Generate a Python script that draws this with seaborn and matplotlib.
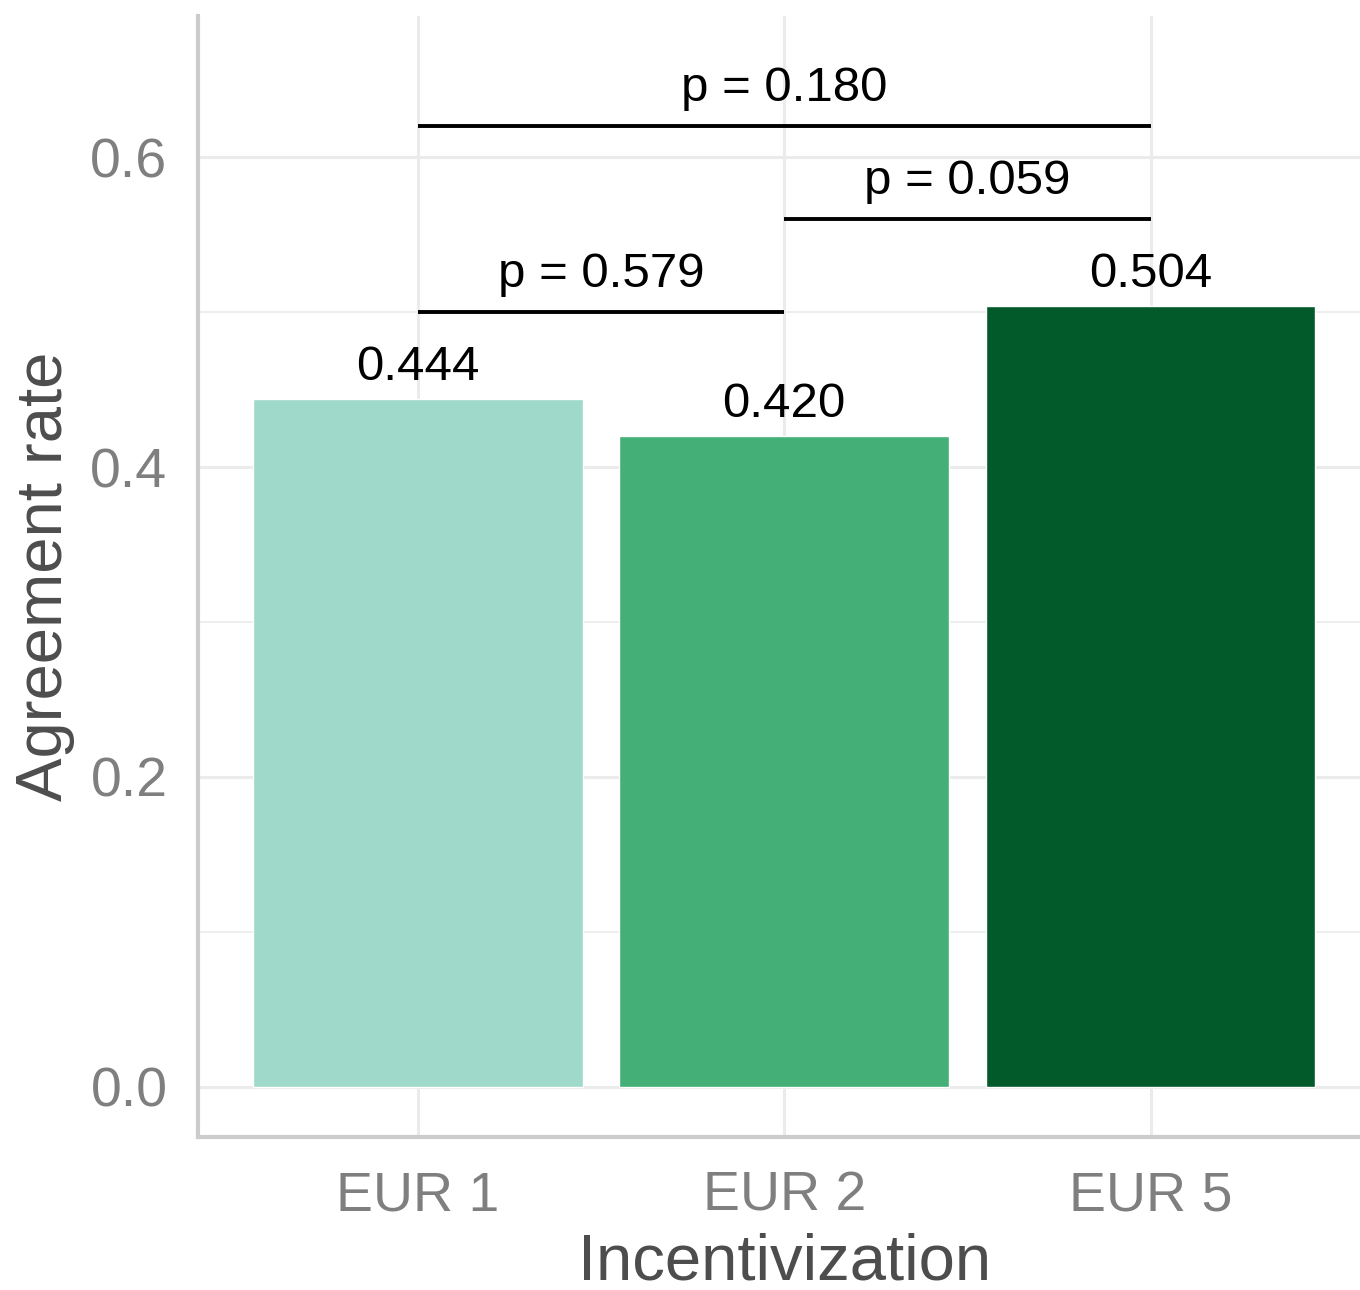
import numpy as np
import pandas as pd
import matplotlib
matplotlib.use("Agg")
import matplotlib.pyplot as plt
import seaborn as sns

# data
incentive = ["EUR 1", "EUR 2", "EUR 5"]
agreement = [0.444, 0.420, 0.504]
bar_colors = ["#9ED9C9", "#45AF78", "#02592A"]

# pairwise comparisons: (left group, right group, p value, bracket height)
pair_left = [0, 1, 0]
pair_right = [1, 2, 2]
p_values = [0.579, 0.059, 0.180]
bracket_y = [0.50, 0.56, 0.62]

df = pd.DataFrame({"Incentivization": incentive, "Agreement rate": agreement})

sns.set_theme(style="whitegrid")
plt.rcParams["font.family"] = ["Liberation Sans", "DejaVu Sans"]

fig = plt.figure(figsize=(13.6, 12.9), dpi=100)
ax = fig.add_axes([0.1456, 0.1186, 0.8620, 0.8690])

sns.barplot(data=df, x="Incentivization", y="Agreement rate", hue="Incentivization",
            palette=bar_colors, width=0.9, legend=False, ax=ax, saturation=1)

# value labels on top of the bars
for i, v in enumerate(agreement):
    ax.text(i, v + 0.006, f"{v:.3f}", ha="center", va="bottom", fontsize=35.5, color="black")

# significance brackets
for l, r, p, y in zip(pair_left, pair_right, p_values, bracket_y):
    ax.plot([l, r], [y, y], color="black", lw=2.8, solid_capstyle="butt")
    ax.text((l + r) / 2, y + 0.010, f"p = {p:.3f}", ha="center", va="bottom",
            fontsize=35.5, color="black")

ax.set_xlim(-0.6, 2.6)
ax.set_ylim(-0.0323, 0.691)
ax.set_yticks([0.0, 0.2, 0.4, 0.6])
ax.set_yticklabels(["0.0", "0.2", "0.4", "0.6"])
ax.set_yticks([0.1, 0.3, 0.5], minor=True)

ax.grid(True, which="major", color="#EBEBEB", lw=2.2)
ax.grid(True, which="minor", axis="y", color="#EBEBEB", lw=1.2)
ax.set_axisbelow(True)

for side in ["top", "right"]:
    ax.spines[side].set_visible(False)
for side in ["left", "bottom"]:
    ax.spines[side].set_color("#CCCCCC")
    ax.spines[side].set_linewidth(3)

ax.tick_params(axis="both", which="both", length=0, labelsize=40, labelcolor="#7F7F7F")
ax.tick_params(axis="y", pad=22)
ax.tick_params(axis="x", pad=24)

ax.set_xlabel("Incentivization", fontsize=47, color="#4D4D4D", labelpad=7)
ax.set_ylabel("Agreement rate", fontsize=47, color="#4D4D4D", labelpad=11)

fig.savefig("out.png", dpi=100)
